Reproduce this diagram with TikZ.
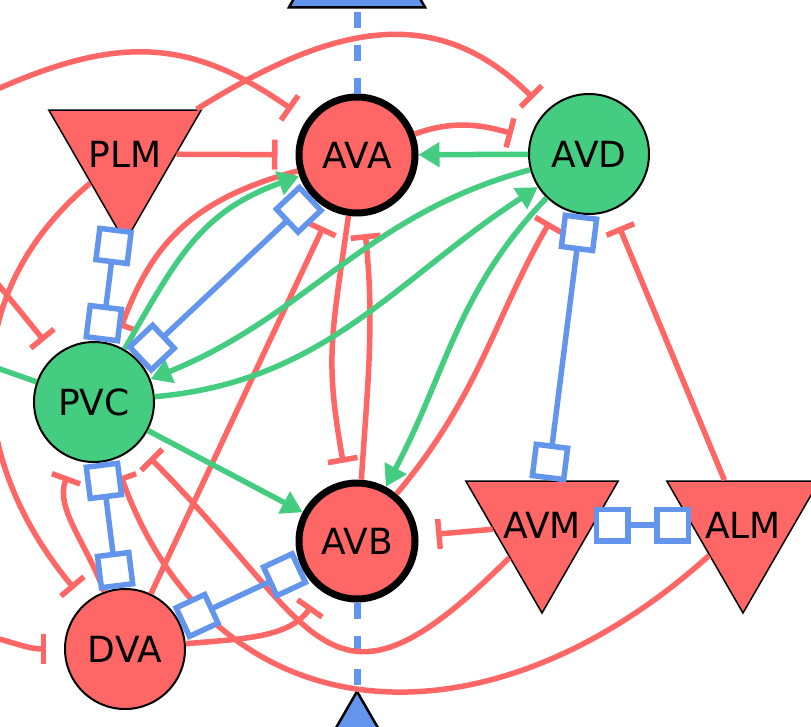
\documentclass[tikz,border=0pt]{standalone}
\usepackage{fontspec}
\setmainfont{DejaVu Sans}
\usetikzlibrary{arrows.meta,shapes.geometric}
\definecolor{inhred}{HTML}{FF6666}
\definecolor{excgreen}{HTML}{44CD80}
\definecolor{gapblue}{HTML}{6495ED}
\tikzset{
  gapend/.tip={Square[fill=white, length=37pt, width=37pt]},
  neuron/.style={circle, draw, line width=2pt, minimum size=120pt, inner sep=0pt,
    font=\fontsize{36}{36}\selectfont},
  command/.style={neuron, fill=inhred, line width=7pt, minimum size=116pt},
  sensory/.style={regular polygon, regular polygon sides=3, shape border rotate=180,
    draw, line width=1.5pt, fill=inhred, minimum size=176pt, inner sep=0pt,
    label={[font=\fontsize{36}{36}\selectfont]center:#1}},
  muscle/.style={regular polygon, regular polygon sides=3, draw, line width=2.5pt,
    fill=gapblue, minimum size=157pt},
  inh/.style={draw=inhred, line width=5.5pt, -{Bar[width=30pt]}, shorten >=18pt},
  exc/.style={draw=excgreen, line width=5.5pt, -{Triangle[length=21pt, width=24pt]}},
  gap/.style={draw=gapblue, line width=5.5pt, gapend-gapend},
  dashline/.style={draw=gapblue, line width=7pt, dash pattern=on 16pt off 17pt}
}
\begin{document}
\begin{tikzpicture}[x=1pt, y=1pt]
  \useasboundingbox (0,-726) rectangle (811,0);
  \clip (0,-726) rectangle (811,0);
  % Neurons
  \node[command] (ava) at (357,-155) {AVA};
  \node[neuron, fill=excgreen] (avd) at (589,-154) {AVD};
  \node[neuron, fill=excgreen] (pvc) at (94,-402) {PVC};
  \node[command] (avb) at (357,-541) {AVB};
  \node[neuron, fill=inhred] (dva) at (125,-649) {DVA};
  \node[sensory=PLM] (plm) at (125,-154) {};
  \node[sensory=AVM] (avm) at (542,-525) {};
  \node[sensory=ALM] (alm) at (743,-525) {};
  \node[muscle] (mtop) at (357,32) {};
  \node[muscle] (mbot) at (357,-770) {};
  % Off-picture ends
  \coordinate (offA) at (-20,-97);
  \coordinate (offB) at (-20,-262);
  \coordinate (offC) at (-40,-355);
  \coordinate (offD) at (-40,-632);
  % Motor output
  \draw[dashline] (ava) -- (mtop);
  \draw[dashline] (avb) -- (mbot);
  % Inhibitory synapses
  \draw[inh] (plm) -- (ava);
  \draw[inh] (plm) to[out=32, in=135, looseness=1.15] (avd);
  \draw[inh] (ava) to[out=20, in=165] (avd);
  \draw[inh] (offA) to[out=25, in=145, looseness=1.15] (ava);
  \draw[inh] (offB) -- (pvc);
  \draw[inh] (plm) to[out=220, in=130, looseness=1.1] (dva);
  \draw[inh] (offD) to[out=-5, in=180] (dva);
  \draw[inh] (ava) to[out=195, in=70, looseness=1.1] (pvc);
  \draw[inh] (dva) -- (ava);
  \draw[inh] (ava) to[out=262, in=100, looseness=1.2] (avb);
  \draw[inh] (avb) to[out=86, in=-84] (ava);
  \draw[inh] (avb) to[out=50, in=240] (avd);
  \draw[inh] (alm) -- (avd);
  \draw[inh] (avm) -- (avb);
  \draw[inh] (avm) to[out=225, in=-45, looseness=1.7] (pvc);
  \draw[inh] (alm) to[out=222, in=-70, looseness=1.27] (pvc);
  \draw[inh] (dva) to[out=110, in=-110] (pvc);
  \draw[inh] (dva) to[out=5, in=235] (avb);
  % Excitatory synapses
  \draw[exc] (avd) -- (ava);
  \draw[exc] (pvc) to[out=60, in=200, looseness=1.1] (ava);
  \draw[exc] (avd) to[out=195, in=22] (pvc);
  \draw[exc] (pvc) to[out=5, in=213] (avd);
  \draw[exc] (pvc) -- (avb);
  \draw[exc] (avd) to[out=226, in=62] (avb);
  \draw[exc] (pvc) -- (offC);
  % Gap junctions
  \draw[gap] (plm) -- (pvc);
  \draw[gap] (ava) -- (pvc);
  \draw[gap] (avd) -- (avm);
  \draw[gap] (avm) -- (alm);
  \draw[gap] (pvc) -- (dva);
  \draw[gap] (dva) -- (avb);
\end{tikzpicture}
\end{document}
